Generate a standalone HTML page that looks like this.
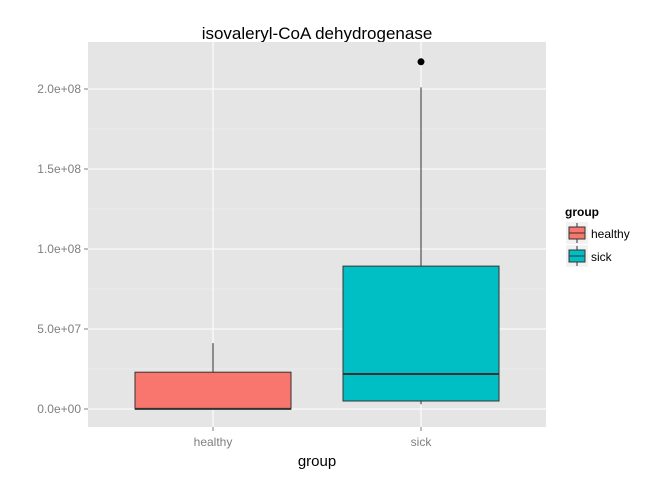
<!DOCTYPE html>
<html><head><meta charset="utf-8"><style>
body{margin:0;background:#fff;font-family:"Liberation Sans",sans-serif}
</style></head><body>
<svg width="672" height="480" xmlns="http://www.w3.org/2000/svg" font-family="Liberation Sans, sans-serif">
<text x="317" y="39" text-anchor="middle" font-size="17">isovaleryl-CoA dehydrogenase</text>
<rect x="88" y="42" width="458" height="385" fill="#e5e5e5"/>
<g id="grid"></g>
<g id="marks"></g>
<g id="axes"></g>
<text x="317" y="466" text-anchor="middle" font-size="15">group</text>
<g>
<text x="565" y="216" font-size="12" font-weight="bold">group</text>
<g>
<rect x="566" y="222" width="22" height="22" fill="#f2f2f2"/>
<line x1="577" y1="223" x2="577" y2="243" stroke="#333"/>
<rect x="569" y="227" width="16" height="12" fill="#f8766d" stroke="#333"/>
<line x1="569" y1="233" x2="585" y2="233" stroke="#333"/>
<text x="591" y="238" font-size="12">healthy</text></g>
<g>
<rect x="566" y="245" width="22" height="22" fill="#f2f2f2"/>
<line x1="577" y1="246" x2="577" y2="266" stroke="#333"/>
<rect x="569" y="250" width="16" height="12" fill="#00bfc4" stroke="#333"/>
<line x1="569" y1="256" x2="585" y2="256" stroke="#333"/>
<text x="591" y="261" font-size="12">sick</text></g>
</g>
</svg>
<script>
const categories=["healthy","sick"];
const colors=["#f8766d","#00bfc4"];
const lowerWhisker=[0,0.3e7];
const q1=[0,0.5e7];
const median=[0.05e6,2.19e7];
const q3=[2.3e7,8.93e7];
const upperWhisker=[4.12e7,2.01e8];
const outliers=[[],[2.17e8]];
const yTicks=[0,5e7,1e8,1.5e8,2e8];
const yTickLabels=["0.0e+00","5.0e+07","1.0e+08","1.5e+08","2.0e+08"];
const NS="http://www.w3.org/2000/svg";
const y=v=>409-v/5e7*80;
const x=i=>213+i*208;
function mk(tag,attrs,parent){const e=document.createElementNS(NS,tag);for(const k in attrs)e.setAttribute(k,attrs[k]);document.getElementById(parent).appendChild(e);return e;}
yTicks.forEach((t,i)=>{
 if(i<yTicks.length-1){const m=mk('line',{x1:88,x2:546,y1:y(t+2.5e7),y2:y(t+2.5e7),stroke:'#f2f2f2','stroke-width':0.6},'grid');
 
 }
 const g=mk('line',{x1:88,x2:546,y1:y(t),y2:y(t),stroke:'#fff','stroke-width':1.1},'grid');
 
 
 const tk=mk('line',{x1:84,x2:88,y1:y(t),y2:y(t),stroke:'#7f7f7f'},'axes');
 
 
 const tl=mk('text',{x:81,y:y(t)+4,'text-anchor':'end','font-size':12,fill:'#7f7f7f'},'axes');
 tl.textContent=yTickLabels[i];
 
 
});
categories.forEach((c,i)=>{
 const g=mk('line',{x1:x(i),x2:x(i),y1:42,y2:427,stroke:'#fff','stroke-width':1.1},'grid');
 
 
 const tk=mk('line',{x1:x(i),x2:x(i),y1:427,y2:431,stroke:'#7f7f7f'},'axes');
 
 
 const tl=mk('text',{x:x(i),y:446,'text-anchor':'middle','font-size':12,fill:'#7f7f7f'},'axes');
 tl.textContent=c;
 
 
 const w=mk('line',{x1:x(i),x2:x(i),y1:y(lowerWhisker[i]),y2:y(upperWhisker[i]),stroke:'#333','stroke-width':1},'marks');
 
 
 const b=mk('rect',{x:x(i)-78,width:156,y:y(q3[i]),height:y(q1[i])-y(q3[i]),fill:colors[i],stroke:'#333','stroke-width':1},'marks');
 
 
 const m=mk('line',{x1:x(i)-78,x2:x(i)+78,y1:y(median[i]),y2:y(median[i]),stroke:'#333','stroke-width':2},'marks');
 
 
 outliers[i].forEach(o=>{const p=mk('circle',{cx:x(i),cy:y(o),r:3.5,fill:'#000'},'marks');
 
 });
});
</script>
</body></html>
